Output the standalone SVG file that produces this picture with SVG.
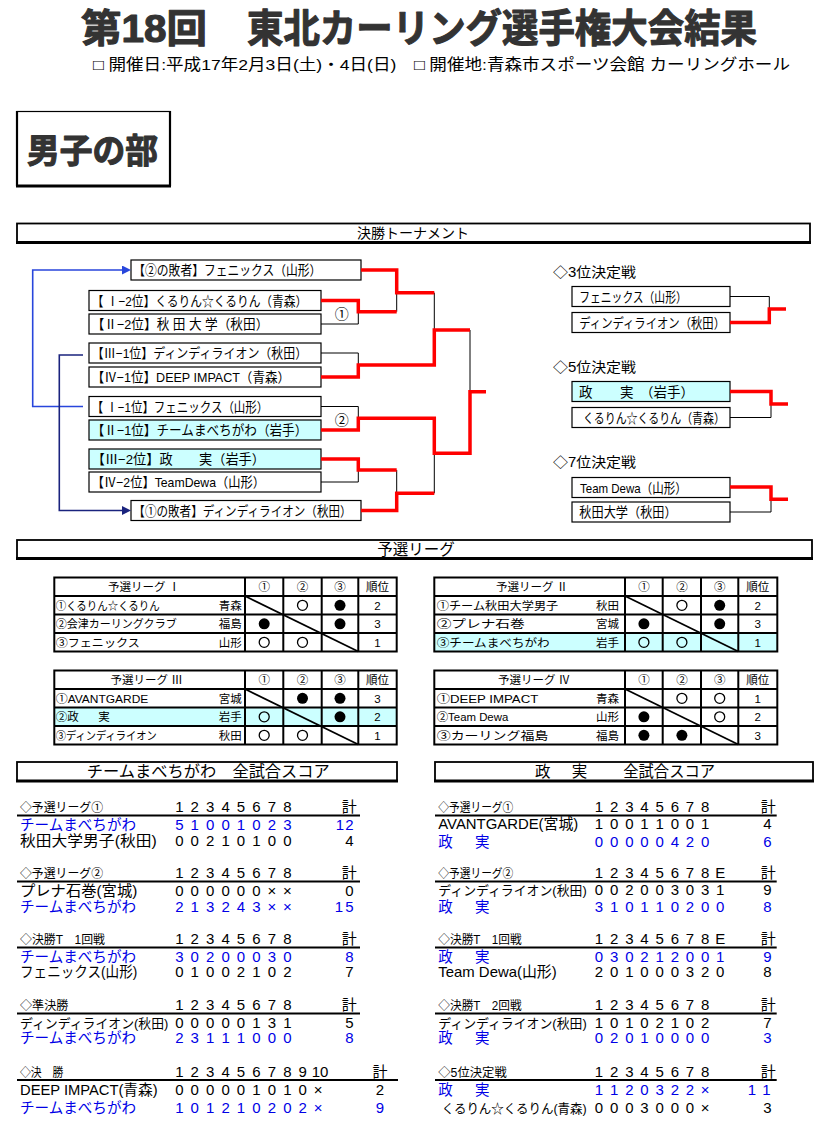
<svg xmlns="http://www.w3.org/2000/svg" width="831" height="1130" viewBox="0 0 831 1130">
<defs>
<style>
text{font-family:'Liberation Sans','Noto Sans CJK JP',sans-serif;fill:#000}
.ttl{font-family:'Liberation Sans','Noto Sans CJK JP',sans-serif;font-weight:700;fill:#333;stroke:#333;stroke-width:1.1;stroke-linejoin:round}
.box{fill:#fff;stroke:#000;stroke-width:1.2}
.cy{fill:#ccffff}
.red{fill:none;stroke:#f00;stroke-width:3.5;stroke-linejoin:miter}
.thin{fill:none;stroke:#000;stroke-width:1}
.bt{font-size:13.5px}
.hd{font-size:12.5px}
.sc{font-size:15px;text-anchor:middle}
.nm{font-size:14.5px}
.nms{font-size:13px}
.blue{fill:#0000e6}
.tb{font-size:11.5px}
.c{text-anchor:middle}
.e{text-anchor:end}
.grid{fill:none;stroke:#000;stroke-width:2}
.ul{stroke:#000;stroke-width:2}
.bar{fill:#fff;stroke:#000;stroke-width:1.8}
.barb{stroke:#000;stroke-width:3}
.oc{fill:none;stroke:#000;stroke-width:1.3}
.fc{fill:#000}
</style>
<marker id="ab" markerUnits="userSpaceOnUse" markerWidth="10" markerHeight="10" refX="0" refY="4.5" orient="auto"><path d="M0,0 L9,4.5 L0,9 z" fill="#2846dc"/></marker>
<marker id="an" markerUnits="userSpaceOnUse" markerWidth="10" markerHeight="10" refX="0" refY="4.5" orient="auto"><path d="M0,0 L9,4.5 L0,9 z" fill="#1a237e"/></marker>
</defs>
<rect width="831" height="1130" fill="#fff"/>

<g id="header">
<text x="81" y="42" class="ttl" font-size="39" textLength="126" lengthAdjust="spacingAndGlyphs">第18回</text>
<text x="247" y="42" class="ttl" font-size="39" textLength="510" lengthAdjust="spacingAndGlyphs">東北カーリング選手権大会結果</text>
<text x="93" y="70" font-size="15.5" textLength="697" lengthAdjust="spacingAndGlyphs">□ 開催日:平成17年2月3日(土)・4日(日)　□ 開催地:青森市スポーツ会館 カーリングホール</text>
</g>

<g id="section-men">
<rect x="17" y="111.5" width="153" height="74.5" fill="#fff" stroke="#000" stroke-width="1.2"/>
<line x1="17" y1="111" x2="17" y2="186" stroke="#000" stroke-width="2.2"/>
<line x1="170" y1="111" x2="170" y2="186" stroke="#000" stroke-width="2.2"/>
<line x1="16" y1="186" x2="171" y2="186" stroke="#000" stroke-width="3"/>
<text x="27" y="163" class="ttl" font-size="34" textLength="131" lengthAdjust="spacingAndGlyphs">男子の部</text>
</g>

<g id="bar-tournament">
<rect x="17" y="223.5" width="793" height="19" class="bar"/>
<line x1="16" y1="242.5" x2="811" y2="242.5" class="barb"/>
<text x="413" y="238" class="c" font-size="14">決勝トーナメント</text>
</g>

<g id="tournament-nodes">
<g id="t1"><rect x="131" y="260" width="230" height="20" class="box"/><text x="133.3" y="275" class="bt" textLength="188" lengthAdjust="spacingAndGlyphs">【②の敗者】フェニックス（山形）</text></g>
<g id="t2"><rect x="89" y="290.5" width="232" height="20" class="box"/><text x="91.7" y="305.5" class="bt" textLength="215.6" lengthAdjust="spacingAndGlyphs">【 Ⅰ−2位】くるりん☆くるりん（青森）</text></g>
<g id="t3"><rect x="89" y="314" width="232" height="20" class="box"/><text x="91.7" y="329" class="bt" textLength="176.6" lengthAdjust="spacingAndGlyphs">【Ⅱ−2位】秋 田 大 学（秋田）</text></g>
<g id="t4"><rect x="89" y="343" width="232" height="20" class="box"/><text x="91.7" y="358" class="bt" textLength="215.6" lengthAdjust="spacingAndGlyphs">【Ⅲ−1位】ディンディライオン（秋田）</text></g>
<g id="t5"><rect x="89" y="367" width="232" height="20" class="box"/><text x="91.7" y="382" class="bt" textLength="198.3" lengthAdjust="spacingAndGlyphs">【Ⅳ−1位】DEEP IMPACT（青森）</text></g>
<g id="t6"><rect x="89" y="396.5" width="232" height="20" class="box"/><text x="91.7" y="411.5" class="bt" textLength="176.6" lengthAdjust="spacingAndGlyphs">【 Ⅰ−1位】フェニックス（山形）</text></g>
<g id="t7"><rect x="89" y="420" width="232" height="20" class="box cy"/><text x="91.7" y="435" class="bt" textLength="215.6" lengthAdjust="spacingAndGlyphs">【Ⅱ−1位】チームまべちがわ（岩手）</text></g>
<g id="t8"><rect x="89" y="449" width="232" height="20" class="box cy"/><text x="91.7" y="464" class="bt" textLength="173.3" lengthAdjust="spacingAndGlyphs">【Ⅲ−2位】政　　実（岩手）</text></g>
<g id="t9"><rect x="89" y="472" width="232" height="20" class="box"/><text x="91.7" y="487" class="bt" textLength="173.3" lengthAdjust="spacingAndGlyphs">【Ⅳ−2位】TeamDewa（山形）</text></g>
<g id="t10"><rect x="131" y="500.5" width="230" height="20" class="box"/><text x="133.3" y="515.5" class="bt" textLength="218.4" lengthAdjust="spacingAndGlyphs">【①の敗者】ディンディライオン（秋田）</text></g>
<text x="341.7" y="318.5" class="c" font-size="14">①</text>
<text x="341.7" y="425" class="c" font-size="14">②</text>
</g>

<g id="placement-nodes">
<text x="553" y="277" font-size="14" textLength="83" lengthAdjust="spacingAndGlyphs">◇3位決定戦</text>
<g id="p3a"><rect x="572" y="286.5" width="158" height="20" class="box"/><text x="579.3" y="301.5" class="bt" textLength="107.4" lengthAdjust="spacingAndGlyphs">フェニックス（山形）</text></g>
<g id="p3b"><rect x="572" y="312.5" width="158" height="20" class="box"/><text x="579.3" y="327.5" class="bt" textLength="145.7" lengthAdjust="spacingAndGlyphs">ディンディライオン（秋田）</text></g>
<text x="553" y="372" font-size="14" textLength="83" lengthAdjust="spacingAndGlyphs">◇5位決定戦</text>
<g id="p5a"><rect x="572" y="381.5" width="158" height="20" class="box cy"/><text x="579" y="396.5" class="bt">政<tspan x="620">実</tspan><tspan x="640">（岩手）</tspan></text></g>
<g id="p5b"><rect x="572" y="407.5" width="158" height="20" class="box"/><text x="583" y="422.5" class="bt" textLength="142" lengthAdjust="spacingAndGlyphs">くるりん☆くるりん（青森）</text></g>
<text x="553" y="467" font-size="14" textLength="83" lengthAdjust="spacingAndGlyphs">◇7位決定戦</text>
<g id="p7a"><rect x="572" y="477.5" width="158" height="20" class="box"/><text x="580" y="492.5" class="bt" textLength="106.7" lengthAdjust="spacingAndGlyphs">Team Dewa（山形）</text></g>
<g id="p7b"><rect x="572" y="502" width="158" height="20" class="box"/><text x="579.3" y="517" class="bt" textLength="97.4" lengthAdjust="spacingAndGlyphs">秋田大学（秋田）</text></g>
</g>

<g id="connectors">
<path class="thin" d="M396.7,292.7 V311.7 M321,324 H358.3 V311.7 M434.3,292.7 V330 M321,353 H358.3 V365 M470,330 V391.7 M321,406.5 H358.3 V418.3 M321,482 H358.3 V470 M396.7,470 V493.3 M434.3,453.3 V493.3"/>
<path class="red" d="M361,270 H396.7 V292.7 H434.3"/>
<path class="red" d="M321,300.5 H358.3 V311.7 H396.7"/>
<path class="red" d="M321,377 H358.3 V365 H434.3 V330 H470"/>
<path class="red" d="M321,430 H358.3 V418.3 H434.3 V453.3 H470 V391.7 H486"/>
<path class="red" d="M321,459 H358.3 V470 H396.7"/>
<path class="red" d="M361,510.5 H396.7 V493.3 H434.3"/>
<path d="M83,406.5 H32.7 V270 H122" fill="none" stroke="#2846dc" stroke-width="1.6" marker-end="url(#ab)"/>
<path d="M83,355 H59.3 V510.5 H122" fill="none" stroke="#1a237e" stroke-width="1.6" marker-end="url(#an)"/>
<path class="thin" d="M730,296.5 H769.3 V309 M730,417.5 H771 V404 M730,512 H771 V499.3"/>
<path class="red" d="M730,322.5 H769.3 V309 H786"/>
<path class="red" d="M730,391.5 H771 V404 H788"/>
<path class="red" d="M730,487 H771 V499.3 H788"/>
</g>

<g id="bar-league">
<rect x="17" y="540" width="795" height="18.5" class="bar"/>
<line x1="16" y1="558.5" x2="813" y2="558.5" class="barb"/>
<text x="416" y="554.5" class="c" font-size="15.5">予選リーグ</text>
</g>

<g id="league-1">
<rect x="54.3" y="577.5" width="342.4" height="74" class="grid"/>
<path class="grid" d="M54.3,596 H396.7 M54.3,614.5 H396.7 M54.3,633 H396.7 M245,577.5 V651.5 M283.3,577.5 V651.5 M321.7,577.5 V651.5 M358.3,577.5 V651.5"/>
<line x1="245" y1="596" x2="358.3" y2="651.5" stroke="#000" stroke-width="1.8"/>
<text x="144" y="591" class="tb c">予選リーグ Ⅰ</text>
<text x="264.2" y="591" class="tb c">①</text><text x="302.5" y="591" class="tb c">②</text><text x="340" y="591" class="tb c">③</text><text x="377.5" y="591" class="tb c">順位</text>
<text x="55.7" y="609.5" class="tb" textLength="104" lengthAdjust="spacingAndGlyphs">①くるりん☆くるりん</text><text x="241.7" y="609.5" class="tb e">青森</text>
<text x="55.7" y="628" class="tb" textLength="121" lengthAdjust="spacingAndGlyphs">②会津カーリングクラブ</text><text x="241.7" y="628" class="tb e">福島</text>
<text x="55.7" y="646.5" class="tb" textLength="84" lengthAdjust="spacingAndGlyphs">③フェニックス</text><text x="241.7" y="646.5" class="tb e">山形</text>
<circle cx="302.5" cy="605.3" r="5" class="oc"/><circle cx="340" cy="605.3" r="5.5" class="fc"/><text x="377.5" y="609.5" class="tb c">2</text>
<circle cx="264.2" cy="623.8" r="5.5" class="fc"/><circle cx="340" cy="623.8" r="5.5" class="fc"/><text x="377.5" y="628" class="tb c">3</text>
<circle cx="264.2" cy="642.3" r="5" class="oc"/><circle cx="302.5" cy="642.3" r="5" class="oc"/><text x="377.5" y="646.5" class="tb c">1</text>
</g>

<g id="league-2">
<rect x="434.3" y="633" width="343" height="18.5" class="cy"/>
<rect x="434.3" y="577.5" width="343" height="74" class="grid"/>
<path class="grid" d="M434.3,596 H777.3 M434.3,614.5 H777.3 M434.3,633 H777.3 M625,577.5 V651.5 M662.7,577.5 V651.5 M701,577.5 V651.5 M738.3,577.5 V651.5"/>
<line x1="625" y1="596" x2="738.3" y2="651.5" stroke="#000" stroke-width="1.8"/>
<text x="532" y="591" class="tb c">予選リーグ Ⅱ</text>
<text x="643.9" y="591" class="tb c">①</text><text x="681.9" y="591" class="tb c">②</text><text x="719.7" y="591" class="tb c">③</text><text x="757.8" y="591" class="tb c">順位</text>
<text x="436.7" y="609.5" class="tb" textLength="121.6" lengthAdjust="spacingAndGlyphs">①チーム秋田大学男子</text><text x="619" y="609.5" class="tb e">秋田</text>
<text x="436.7" y="628" class="tb" textLength="88" lengthAdjust="spacingAndGlyphs">②プレナ石巻</text><text x="619" y="628" class="tb e">宮城</text>
<text x="436.7" y="646.5" class="tb" textLength="113" lengthAdjust="spacingAndGlyphs">③チームまべちがわ</text><text x="619" y="646.5" class="tb e">岩手</text>
<circle cx="681.9" cy="605.3" r="5" class="oc"/><circle cx="719.7" cy="605.3" r="5.5" class="fc"/><text x="757.8" y="609.5" class="tb c">2</text>
<circle cx="643.9" cy="623.8" r="5.5" class="fc"/><circle cx="719.7" cy="623.8" r="5.5" class="fc"/><text x="757.8" y="628" class="tb c">3</text>
<circle cx="643.9" cy="642.3" r="5" class="oc"/><circle cx="681.9" cy="642.3" r="5" class="oc"/><text x="757.8" y="646.5" class="tb c">1</text>
</g>

<g id="league-3">
<rect x="54.3" y="707.5" width="342.4" height="18.5" class="cy"/>
<rect x="54.3" y="670.5" width="342.4" height="74" class="grid"/>
<path class="grid" d="M54.3,689 H396.7 M54.3,707.5 H396.7 M54.3,726 H396.7 M245,670.5 V744.5 M283.3,670.5 V744.5 M321.7,670.5 V744.5 M358.3,670.5 V744.5"/>
<line x1="245" y1="689" x2="358.3" y2="744.5" stroke="#000" stroke-width="1.8"/>
<text x="146.7" y="684" class="tb c">予選リーグ Ⅲ</text>
<text x="264.2" y="684" class="tb c">①</text><text x="302.5" y="684" class="tb c">②</text><text x="340" y="684" class="tb c">③</text><text x="377.5" y="684" class="tb c">順位</text>
<text x="55.7" y="702.5" class="tb" textLength="92.6" lengthAdjust="spacingAndGlyphs">①AVANTGARDE</text><text x="241.7" y="702.5" class="tb e">宮城</text>
<text x="55.7" y="721" class="tb">②政<tspan x="98.3">実</tspan></text><text x="241.7" y="721" class="tb e">岩手</text>
<text x="55.7" y="739.5" class="tb" textLength="101" lengthAdjust="spacingAndGlyphs">③ディンディライオン</text><text x="241.7" y="739.5" class="tb e">秋田</text>
<circle cx="302.5" cy="698.3" r="5.5" class="fc"/><circle cx="340" cy="698.3" r="5.5" class="fc"/><text x="377.5" y="702.5" class="tb c">3</text>
<circle cx="264.2" cy="716.8" r="5" class="oc"/><circle cx="340" cy="716.8" r="5.5" class="fc"/><text x="377.5" y="721" class="tb c">2</text>
<circle cx="264.2" cy="735.3" r="5" class="oc"/><circle cx="302.5" cy="735.3" r="5" class="oc"/><text x="377.5" y="739.5" class="tb c">1</text>
</g>

<g id="league-4">
<rect x="434.3" y="670.5" width="343" height="74" class="grid"/>
<path class="grid" d="M434.3,689 H777.3 M434.3,707.5 H777.3 M434.3,726 H777.3 M625,670.5 V744.5 M662.7,670.5 V744.5 M701,670.5 V744.5 M738.3,670.5 V744.5"/>
<line x1="625" y1="689" x2="738.3" y2="744.5" stroke="#000" stroke-width="1.8"/>
<text x="534" y="684" class="tb c">予選リーグ Ⅳ</text>
<text x="643.9" y="684" class="tb c">①</text><text x="681.9" y="684" class="tb c">②</text><text x="719.7" y="684" class="tb c">③</text><text x="757.8" y="684" class="tb c">順位</text>
<text x="436.7" y="702.5" class="tb" textLength="101.6" lengthAdjust="spacingAndGlyphs">①DEEP IMPACT</text><text x="619" y="702.5" class="tb e">青森</text>
<text x="436.7" y="721" class="tb" font-size="10.5" textLength="71.6" lengthAdjust="spacingAndGlyphs">②Team Dewa</text><text x="619" y="721" class="tb e">山形</text>
<text x="436.7" y="739.5" class="tb" textLength="111.6" lengthAdjust="spacingAndGlyphs">③カーリング福島</text><text x="619" y="739.5" class="tb e">福島</text>
<circle cx="681.9" cy="698.3" r="5" class="oc"/><circle cx="719.7" cy="698.3" r="5" class="oc"/><text x="757.8" y="702.5" class="tb c">1</text>
<circle cx="643.9" cy="716.8" r="5.5" class="fc"/><circle cx="719.7" cy="716.8" r="5" class="oc"/><text x="757.8" y="721" class="tb c">2</text>
<circle cx="643.9" cy="735.3" r="5.5" class="fc"/><circle cx="681.9" cy="735.3" r="5.5" class="fc"/><text x="757.8" y="739.5" class="tb c">3</text>
</g>

<g id="scores-left">
<rect x="17" y="762" width="380" height="19" class="bar"/>
<line x1="16" y1="781" x2="398" y2="781" class="barb"/>
<text x="208.3" y="777" font-size="16" class="c" textLength="243" lengthAdjust="spacingAndGlyphs">チームまべちがわ　全試合スコア</text>

<text x="20" y="812" class="hd" textLength="83" lengthAdjust="spacingAndGlyphs">◇予選リーグ①</text>
<text x="179.3 194.7 210.2 225.6 241 256.5 271.9 287.3" y="812" class="sc">12345678</text>
<text x="349.3" y="812" class="sc">計</text>
<line x1="17" y1="815.5" x2="360" y2="815.5" class="ul"/>
<text x="20" y="830" class="nm blue" textLength="116" lengthAdjust="spacingAndGlyphs">チームまべちがわ</text>
<text x="179.3 194.7 210.2 225.6 241 256.5 271.9 287.3" y="830" class="sc blue">51001023</text>
<text x="340 349.5" y="830" class="sc blue">12</text>
<text x="20" y="846" class="nm" textLength="136.7" lengthAdjust="spacingAndGlyphs">秋田大学男子(秋田)</text>
<text x="179.3 194.7 210.2 225.6 241 256.5 271.9 287.3" y="846" class="sc">00210100</text>
<text x="349.3" y="846" class="sc">4</text>

<text x="20" y="878" class="hd" textLength="83" lengthAdjust="spacingAndGlyphs">◇予選リーグ②</text>
<text x="179.3 194.7 210.2 225.6 241 256.5 271.9 287.3" y="878" class="sc">12345678</text>
<text x="349.3" y="878" class="sc">計</text>
<line x1="17" y1="881.5" x2="360" y2="881.5" class="ul"/>
<text x="20" y="896" class="nm" textLength="117.3" lengthAdjust="spacingAndGlyphs">プレナ石巻(宮城)</text>
<text x="179.3 194.7 210.2 225.6 241 256.5 271.9 287.3" y="896" class="sc">000000××</text>
<text x="349.3" y="896" class="sc">0</text>
<text x="20" y="912" class="nm blue" textLength="116" lengthAdjust="spacingAndGlyphs">チームまべちがわ</text>
<text x="179.3 194.7 210.2 225.6 241 256.5 271.9 287.3" y="912" class="sc blue">213243××</text>
<text x="339 349.5" y="912" class="sc blue">15</text>

<text x="20" y="944" class="hd" textLength="85" lengthAdjust="spacingAndGlyphs">◇決勝T　1回戦</text>
<text x="179.3 194.7 210.2 225.6 241 256.5 271.9 287.3" y="944" class="sc">12345678</text>
<text x="349.3" y="944" class="sc">計</text>
<line x1="17" y1="947.5" x2="360" y2="947.5" class="ul"/>
<text x="20" y="962" class="nm blue" textLength="116" lengthAdjust="spacingAndGlyphs">チームまべちがわ</text>
<text x="179.3 194.7 210.2 225.6 241 256.5 271.9 287.3" y="962" class="sc blue">30200030</text>
<text x="349.3" y="962" class="sc blue">8</text>
<text x="20" y="977" class="nm" textLength="117.3" lengthAdjust="spacingAndGlyphs">フェニックス(山形)</text>
<text x="179.3 194.7 210.2 225.6 241 256.5 271.9 287.3" y="977" class="sc">01002102</text>
<text x="349.3" y="977" class="sc">7</text>

<text x="20" y="1010" class="hd" textLength="48.3" lengthAdjust="spacingAndGlyphs">◇準決勝</text>
<text x="179.3 194.7 210.2 225.6 241 256.5 271.9 287.3" y="1010" class="sc">12345678</text>
<text x="349.3" y="1010" class="sc">計</text>
<line x1="17" y1="1013.5" x2="360" y2="1013.5" class="ul"/>
<text x="20" y="1027.5" class="nms" textLength="148.3" lengthAdjust="spacingAndGlyphs">ディンディライオン(秋田)</text>
<text x="179.3 194.7 210.2 225.6 241 256.5 271.9 287.3" y="1027.5" class="sc">00000131</text>
<text x="349.3" y="1027.5" class="sc">5</text>
<text x="20" y="1043" class="nm blue" textLength="116" lengthAdjust="spacingAndGlyphs">チームまべちがわ</text>
<text x="179.3 194.7 210.2 225.6 241 256.5 271.9 287.3" y="1043" class="sc blue">23111000</text>
<text x="349.3" y="1043" class="sc blue">8</text>

<text x="20" y="1076.5" class="hd" textLength="43.3" lengthAdjust="spacingAndGlyphs">◇決　勝</text>
<text x="179.3 194.7 210.2 225.6 241 256.5 271.9 287.3 302.7" y="1076.5" class="sc">123456789</text>
<text x="320" y="1076.5" class="sc">10</text>
<text x="380" y="1076.5" class="sc">計</text>
<line x1="17" y1="1080" x2="398" y2="1080" class="ul"/>
<text x="20" y="1095" class="nm" textLength="137.7" lengthAdjust="spacingAndGlyphs">DEEP IMPACT(青森)</text>
<text x="179.3 194.7 210.2 225.6 241 256.5 271.9 287.3 302.7 318.2" y="1095" class="sc">000001010×</text>
<text x="380" y="1095" class="sc">2</text>
<text x="20" y="1112.5" class="nm blue" textLength="116" lengthAdjust="spacingAndGlyphs">チームまべちがわ</text>
<text x="179.3 194.7 210.2 225.6 241 256.5 271.9 287.3 302.7 318.2" y="1112.5" class="sc blue">101210202×</text>
<text x="380" y="1112.5" class="sc blue">9</text>
</g>

<g id="scores-right">
<rect x="435" y="762" width="378" height="19" class="bar"/>
<line x1="434" y1="781" x2="814" y2="781" class="barb"/>
<text x="535" y="777" font-size="15.5">政<tspan x="571.7">実</tspan><tspan x="623.3" textLength="91.7" lengthAdjust="spacingAndGlyphs">全試合スコア</tspan></text>

<text x="438.3" y="812" class="hd" textLength="75" lengthAdjust="spacingAndGlyphs">◇予選リーグ①</text>
<text x="599 614.1 629.3 644.4 659.6 674.8 689.9 705.1" y="812" class="sc">12345678</text>
<text x="768.3" y="812" class="sc">計</text>
<line x1="435" y1="815.5" x2="776.7" y2="815.5" class="ul"/>
<text x="438.3" y="828.5" class="nm" textLength="140" lengthAdjust="spacingAndGlyphs">AVANTGARDE(宮城)</text>
<text x="599 614.1 629.3 644.4 659.6 674.8 689.9 705.1" y="828.5" class="sc">10011001</text>
<text x="767.3" y="828.5" class="sc">4</text>
<text x="438.3" y="846.5" class="nm blue">政<tspan x="475">実</tspan></text>
<text x="599 614.1 629.3 644.4 659.6 674.8 689.9 705.1" y="846.5" class="sc blue">00000420</text>
<text x="767.3" y="846.5" class="sc blue">6</text>

<text x="438.3" y="878" class="hd" textLength="75" lengthAdjust="spacingAndGlyphs">◇予選リーグ②</text>
<text x="599 614.1 629.3 644.4 659.6 674.8 689.9 705.1 720.2" y="878" class="sc">12345678E</text>
<text x="768.3" y="878" class="sc">計</text>
<line x1="435" y1="881.5" x2="776.7" y2="881.5" class="ul"/>
<text x="438.3" y="895" class="nms" textLength="148.4" lengthAdjust="spacingAndGlyphs">ディンディライオン(秋田)</text>
<text x="599 614.1 629.3 644.4 659.6 674.8 689.9 705.1 720.2" y="895" class="sc">002003031</text>
<text x="767.3" y="895" class="sc">9</text>
<text x="438.3" y="912" class="nm blue">政<tspan x="475">実</tspan></text>
<text x="599 614.1 629.3 644.4 659.6 674.8 689.9 705.1 720.2" y="912" class="sc blue">310110200</text>
<text x="767.3" y="912" class="sc blue">8</text>

<text x="438.3" y="944" class="hd" textLength="83.4" lengthAdjust="spacingAndGlyphs">◇決勝T　1回戦</text>
<text x="599 614.1 629.3 644.4 659.6 674.8 689.9 705.1 720.2" y="944" class="sc">12345678E</text>
<text x="768.3" y="944" class="sc">計</text>
<line x1="435" y1="947.5" x2="776.7" y2="947.5" class="ul"/>
<text x="438.3" y="962" class="nm blue">政<tspan x="475">実</tspan></text>
<text x="599 614.1 629.3 644.4 659.6 674.8 689.9 705.1 720.2" y="962" class="sc blue">030212001</text>
<text x="767.3" y="962" class="sc blue">9</text>
<text x="438.3" y="977" class="nm" textLength="118.4" lengthAdjust="spacingAndGlyphs">Team Dewa(山形)</text>
<text x="599 614.1 629.3 644.4 659.6 674.8 689.9 705.1 720.2" y="977" class="sc">201000320</text>
<text x="767.3" y="977" class="sc">8</text>

<text x="438.3" y="1010" class="hd" textLength="83.4" lengthAdjust="spacingAndGlyphs">◇決勝T　2回戦</text>
<text x="599 614.1 629.3 644.4 659.6 674.8 689.9 705.1" y="1010" class="sc">12345678</text>
<text x="768.3" y="1010" class="sc">計</text>
<line x1="435" y1="1013.5" x2="776.7" y2="1013.5" class="ul"/>
<text x="438.3" y="1027.5" class="nms" textLength="148.4" lengthAdjust="spacingAndGlyphs">ディンディライオン(秋田)</text>
<text x="599 614.1 629.3 644.4 659.6 674.8 689.9 705.1" y="1027.5" class="sc">10102102</text>
<text x="767.3" y="1027.5" class="sc">7</text>
<text x="438.3" y="1043" class="nm blue">政<tspan x="475">実</tspan></text>
<text x="599 614.1 629.3 644.4 659.6 674.8 689.9 705.1" y="1043" class="sc blue">02010000</text>
<text x="767.3" y="1043" class="sc blue">3</text>

<text x="438.3" y="1076.5" class="hd" textLength="68.4" lengthAdjust="spacingAndGlyphs">◇5位決定戦</text>
<text x="599 614.1 629.3 644.4 659.6 674.8 689.9 705.1" y="1076.5" class="sc">12345678</text>
<text x="768.3" y="1076.5" class="sc">計</text>
<line x1="435" y1="1080" x2="776.7" y2="1080" class="ul"/>
<text x="438.3" y="1095" class="nm blue">政<tspan x="475">実</tspan></text>
<text x="599 614.1 629.3 644.4 659.6 674.8 689.9 705.1" y="1095" class="sc blue">1120322×</text>
<text x="752 766.5" y="1095" class="sc blue">11</text>
<text x="441.7" y="1112.5" class="nms" textLength="145" lengthAdjust="spacingAndGlyphs">くるりん☆くるりん(青森)</text>
<text x="599 614.1 629.3 644.4 659.6 674.8 689.9 705.1" y="1112.5" class="sc">0003000×</text>
<text x="767.3" y="1112.5" class="sc">3</text>
</g>
</svg>
